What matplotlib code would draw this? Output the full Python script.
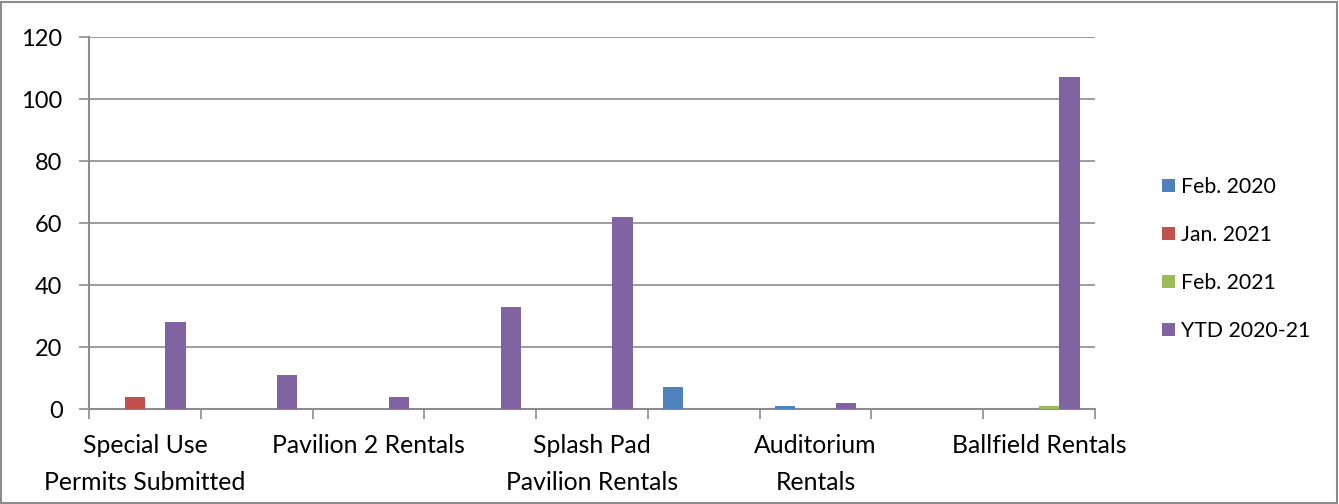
import numpy as np
import matplotlib
matplotlib.use('Agg')
import matplotlib.pyplot as plt
from matplotlib.patches import Rectangle

plt.rcParams['font.family'] = ['Lato', 'DejaVu Sans']

##### data ###################################
tick_labels = ['Special Use\nPermits Submitted', '', 'Pavilion 2 Rentals', '',
               'Splash Pad\nPavilion Rentals', '', 'Auditorium\nRentals', '',
               'Ballfield Rentals']
series_names = ['Feb. 2020', 'Jan. 2021', 'Feb. 2021', 'YTD 2020-21']
feb_2020 = [0, 0, 0, 0, 0, 7, 1, 0, 0]
jan_2021 = [4, 0, 0, 0, 0, 0, 0, 0, 0]
feb_2021 = [0, 0, 0, 0, 0, 0, 0, 0, 1]
ytd_2021 = [28, 11, 4, 33, 62, 0, 2, 0, 107]
colors = ['#4F81BD', '#C0504D', '#9BBB59', '#8064A2']

##### plot ###################################
fig = plt.figure(figsize=(13.39, 5.04), dpi=100)
ax = fig.add_axes([89/1339, 1-409/504, (1095-89)/1339, (409-37)/504])

n_cat = len(tick_labels)
x = np.arange(n_cat)
bw = 1/5.5
series = [feb_2020, jan_2021, feb_2021, ytd_2021]
for i, (vals, name, c) in enumerate(zip(series, series_names, colors)):
    ax.bar(x + (i-1.5)*bw, vals, width=bw, color=c, label=name, zorder=3)

ax.set_xlim(-0.5, n_cat-0.5)
ax.set_ylim(0, 120)
ax.set_yticks(range(0, 121, 20))
ax.yaxis.grid(True, color='#8c8c8c', linewidth=1.2, zorder=0)
ax.set_axisbelow(True)

# category boundary ticks, labels at centers
ax.set_xticks(np.arange(-0.5, n_cat, 1))
ax.set_xticklabels([])
ax.set_xticks(x, minor=True)
ax.set_xticklabels(tick_labels, minor=True, fontsize=17.8, linespacing=1.72)
ax.tick_params(axis='x', which='minor', length=0, pad=18)
ax.tick_params(axis='x', which='major', length=7, width=1.2, color='#8c8c8c', direction='out')
ax.tick_params(axis='y', length=7, width=1.2, color='#8c8c8c', direction='out', labelsize=17, pad=12)

for s in ['top', 'right']:
    ax.spines[s].set_visible(False)
for s in ['left', 'bottom']:
    ax.spines[s].set_color('#8c8c8c')
    ax.spines[s].set_linewidth(1.5)

ax.legend(loc='center left', bbox_to_anchor=(1143/1339, 1-259/504), bbox_transform=fig.transFigure,
          frameon=False, fontsize=15.3, handlelength=0.6, handleheight=0.6,
          handletextpad=0.3, labelspacing=1.32)

# chart area border
fig.patches.append(Rectangle((1/1339, 1/504), 1336/1339, 501/504, transform=fig.transFigure,
                             fill=False, edgecolor='#8c8c8c', linewidth=1.5))

fig.savefig('out.png', dpi=100)
